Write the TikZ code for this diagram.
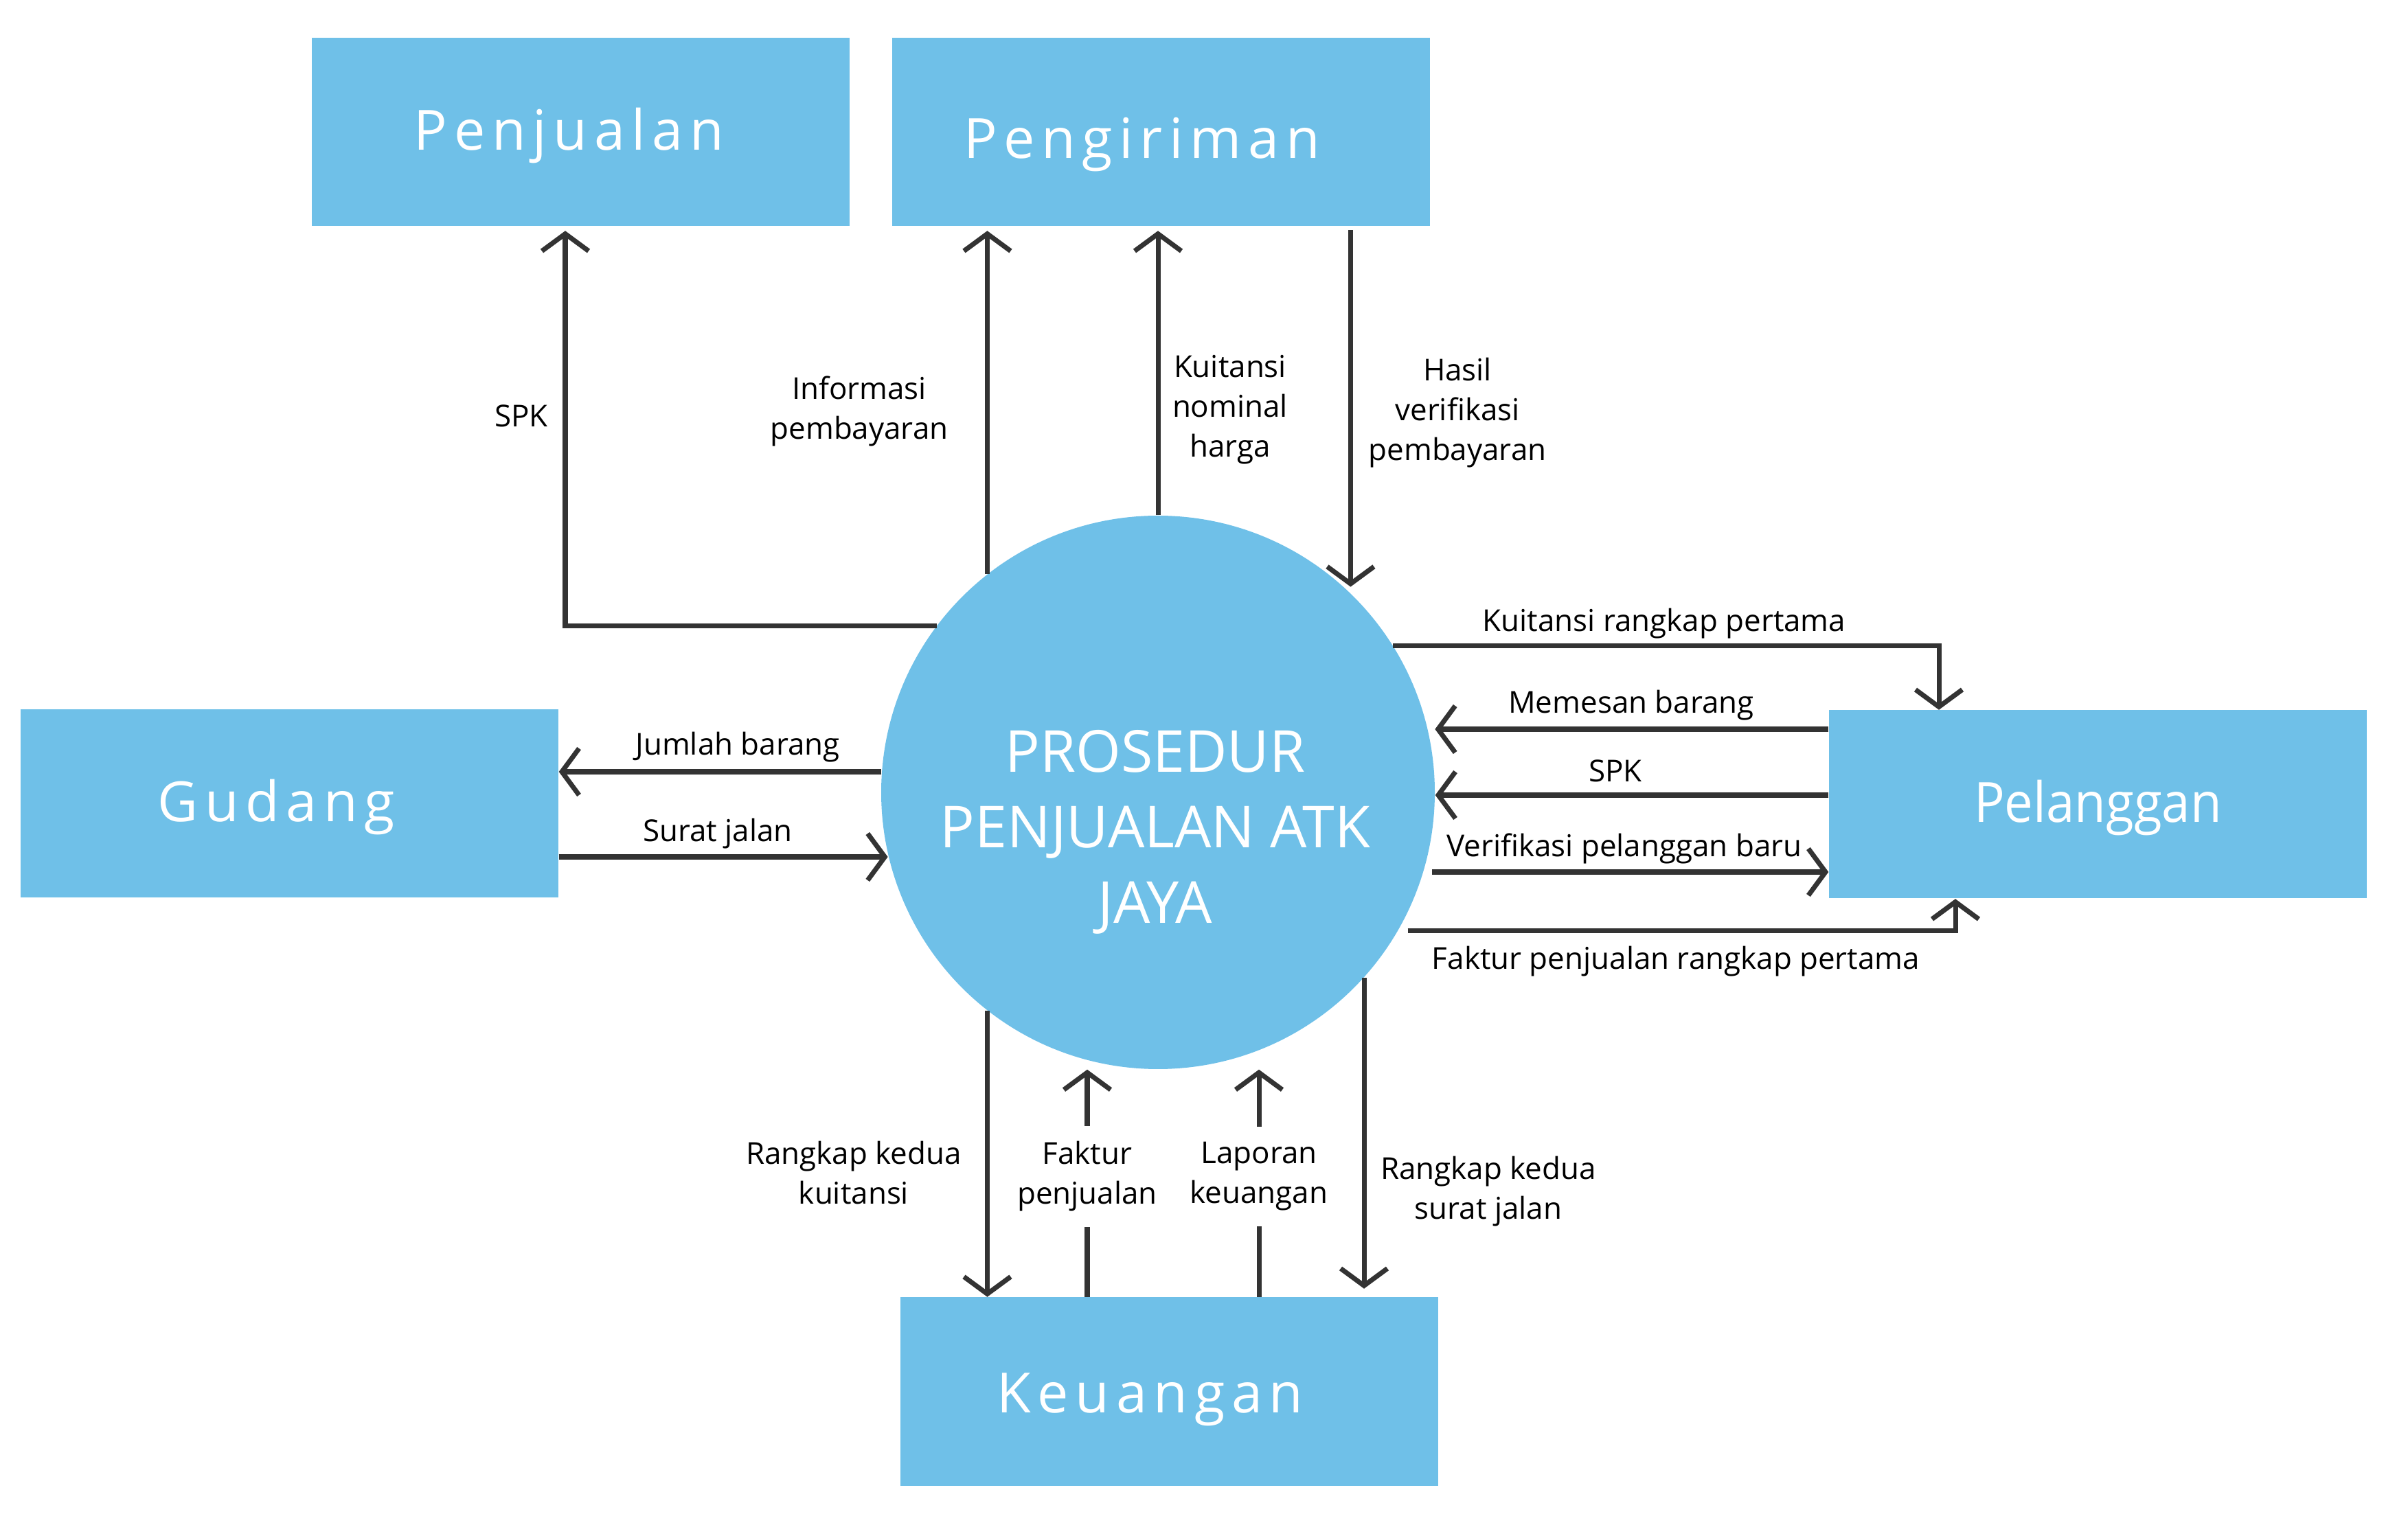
\documentclass[tikz,border=0pt]{standalone}
\usepackage{fontspec}
\setmainfont{Open Sans}
\newfontfamily\boxfont[LetterSpace=12]{Open Sans}
\newfontfamily\narrowfont[FakeStretch=0.92]{Open Sans}
\usetikzlibrary{arrows.meta}
\definecolor{boxblue}{RGB}{111,192,232}
\definecolor{linegray}{RGB}{51,51,51}

\begin{document}
\begin{tikzpicture}[
  entity/.style={fill=boxblue, minimum width=7.83cm, minimum height=2.74cm, text=white,
    text height=22pt, text depth=7pt, font=\boxfont\fontsize{23}{27}\selectfont},
  proc/.style={circle, fill=boxblue, minimum size=8.06cm},
  flow/.style={line width=2pt, draw=linegray, -{Straight Barb[length=2.5mm,width=6.8mm]}},
  lbl/.style={font=\fontsize{12.5}{16.5}\selectfont, align=center, text=black, inner sep=1pt},
]
  \useasboundingbox (0,0) rectangle (35.06,-22.21);
  % the process and the outside parties
  \node[proc] (proses) at (16.86,-11.54) {};
  \node[text=white, align=center, font=\fontsize{24}{31.2}\selectfont] (prosesteks)
    at (16.82,-12.12) {PROSEDUR\\PENJUALAN ATK\\JAYA};
  \node[entity] (penjualan) at (8.455,-1.925) {Penjualan\hspace*{0.34cm}};
  \node[entity, text depth=0.6pt] (pengiriman) at (16.905,-1.925) {Pengiriman\hspace*{0.56cm}};
  \node[entity] (gudang) at (4.215,-11.705) {Gudang\hspace*{0.38cm}};
  \node[entity, font=\narrowfont\fontsize{23}{27}\selectfont] (pelanggan) at (30.545,-11.715) {Pelanggan};
  \node[entity, text depth=4.5pt] (keuangan) at (17.025,-20.265) {Keuangan\hspace*{0.56cm}};

  % flows to the top
  \draw[flow, shorten >=0.06cm] (proses.143) -| ([xshift=-0.225cm]penjualan.south);
  \draw[flow, shorten >=0.06cm] (proses.128) -- (proses.128 |- pengiriman.south);
  \draw[flow, shorten >=0.06cm] (proses.north) -- (proses.north |- pengiriman.south);
  \draw[flow, shorten <=0.05cm, shorten >=0.09cm] (pengiriman.south -| proses.46) -- (proses.46);
  \node[lbl] (l-spk1) at (7.59,-6.06) {SPK};
  \node[lbl] (l-info) at (12.51,-5.99) {Informasi\\pembayaran};
  \node[lbl] (l-kuit) at (17.91,-5.97) {Kuitansi\\nominal\\harga};
  \node[lbl] (l-hasil) at (21.22,-6.01) {Hasil\\verifikasi\\pembayaran};

  % flows with Pelanggan
  \draw[flow] (proses.32) -| ([xshift=-2.315cm]pelanggan.north);
  \draw[flow, shorten >=0.1cm] ([yshift=1.095cm]pelanggan.west) -- ([yshift=1.095cm]pelanggan.west -| proses.13);
  \draw[flow] ([yshift=0.135cm]pelanggan.west) -- ([yshift=0.135cm]pelanggan.west -| proses.east);
  \draw[flow, shorten <=0.13cm] ([yshift=-0.985cm]pelanggan.west -| proses.343) -- ([yshift=-0.985cm]pelanggan.west);
  \draw[flow, shorten <=0.14cm] (proses.330) -| ([xshift=-2.075cm]pelanggan.south);
  \node[lbl] (l-kuitrp) at (24.23,-9.08) {Kuitansi rangkap pertama};
  \node[lbl] (l-pesan) at (23.75,-10.27) {Memesan barang};
  \node[lbl] (l-spk2) at (23.52,-11.23) {SPK};
  \node[lbl] (l-verif) at (23.65,-12.36) {Verifikasi pelanggan baru};
  \node[lbl] (l-faktrp) at (24.40,-14.00) {Faktur penjualan rangkap pertama};

  % flows with Gudang
  \draw[flow] ([yshift=0.465cm]gudang.east -| proses.176) -- ([yshift=0.465cm]gudang.east);
  \draw[flow] ([yshift=-0.775cm]gudang.east) -- ([yshift=-0.775cm]gudang.east -| proses.193);
  \node[lbl] (l-jumlah) at (10.74,-10.88) {Jumlah barang};
  \node[lbl] (l-surat) at (10.45,-12.14) {Surat jalan};

  % flows with Keuangan
  \draw[flow] (proses.232) -- (proses.232 |- keuangan.north);
  \draw[flow] ([xshift=-1.195cm]keuangan.north) -- ([xshift=-1.195cm]keuangan.north |- proses.south)
    node[pos=0.53, lbl, fill=white, inner xsep=3pt, inner ysep=6.5pt] (l-faktur) {Faktur\\penjualan};
  \draw[flow] ([xshift=1.305cm]keuangan.north) -- ([xshift=1.305cm]keuangan.north |- proses.south)
    node[pos=0.53, lbl, fill=white, inner xsep=3pt, inner ysep=6.5pt] (l-lapor) {Laporan\\keuangan};
  \draw[flow, shorten >=0.12cm] (proses.318) -- (proses.318 |- keuangan.north);
  \node[lbl] (l-rkkuit) at (12.43,-17.08) {Rangkap kedua\\kuitansi};
  \node[lbl] (l-rksurat) at (21.67,-17.35) {Rangkap kedua\\surat jalan};
\end{tikzpicture}
\end{document}
